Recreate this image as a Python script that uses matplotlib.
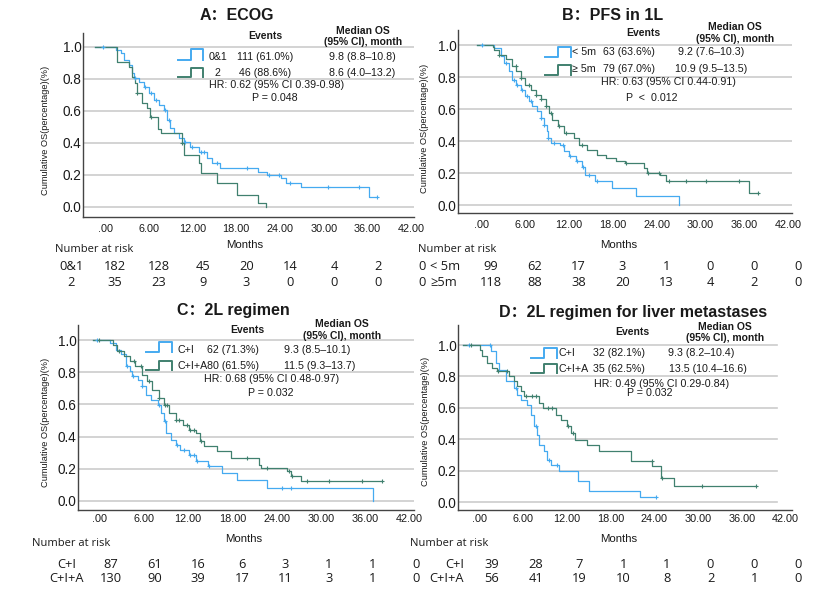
import numpy as np
import matplotlib
matplotlib.use("Agg")
import matplotlib.pyplot as plt
from matplotlib.transforms import ScaledTranslation

W, H = 830, 591
BLUE = "#45aaf0"
GREEN = "#40806f"
TXT = "#1a1a1a"
SANS = ["Liberation Sans", "DejaVu Sans"]
TITLE_FAM = ["Liberation Sans", "Noto Sans CJK SC", "DejaVu Sans"]
RISK_FAM = ["Open Sans", "DejaVu Sans"]

# ------------------------------------------------------------------ data
x_ticks = [0, 6, 12, 18, 24, 30, 36, 42]
x_tick_labels = [".00", "6.00", "12.00", "18.00", "24.00", "30.00", "36.00", "42.00"]
y_ticks = [0.0, 0.2, 0.4, 0.6, 0.8, 1.0]
y_tick_labels = ["0.0", "0.2", "0.4", "0.6", "0.8", "1.0"]
risk_times = [0, 6, 12, 18, 24, 30, 36, 42]

# Panel A: ECOG
a_title = "A：ECOG"
a_groups = ["0&1", "2"]
a_events = ["111 (61.0%)", "46 (88.6%)"]
a_median = ["9.8 (8.8–10.8)", "8.6 (4.0–13.2)"]
a_hr = "HR: 0.62 (95% CI 0.39-0.98)"
a_p = "P = 0.048"
a_blue_t = [2.84, 3.52, 3.98, 4.66, 5.12, 5.35, 6.03, 6.72, 7.41, 8.09, 8.78, 9.46, 9.92,
            10.29, 10.83, 11.52, 12.2, 13.1, 14.3, 15.4, 16.1, 17.2, 22.3, 23.6, 25.5,
            26.2, 28.2, 37.6]
a_blue_s = [0.98, 0.96, 0.92, 0.89, 0.835, 0.805, 0.783, 0.752, 0.71, 0.669, 0.637, 0.606,
            0.544, 0.492, 0.46, 0.429, 0.408, 0.377, 0.346, 0.304, 0.273, 0.242, 0.221,
            0.2, 0.179, 0.148, 0.127, 0.06]
a_blue_c = [1.14, 5.5, 6.8, 7.64, 8.32, 9.6, 10.15, 12.4, 13.3, 14.6, 15.0, 16.8, 20.9,
            23.8, 25.3, 26.8, 31.9, 36.2, 38.7]
a_green_t = [3.06, 4.66, 5.12, 5.44, 5.72, 6.5, 7.2, 7.6, 8.6, 9.0, 11.9, 12.2, 14.3, 14.5,
             16.8, 19.5, 22.3, 23.5]
a_green_s = [0.908, 0.877, 0.815, 0.773, 0.715, 0.648, 0.617, 0.565, 0.49, 0.46, 0.40,
             0.325, 0.273, 0.21, 0.148, 0.075, 0.023, 0.0]
a_green_c = [5.8, 7.7, 12.0]
a_risk = [[182, 128, 45, 20, 14, 4, 2, 0], [35, 23, 9, 3, 0, 0, 0, 0]]

# Panel B: PFS in 1L
b_title = "B：PFS in 1L"
b_groups = ["< 5m", "≥ 5m"]
b_risk_groups = ["< 5m", "≥5m"]
b_events = ["63 (63.6%)", "79 (67.0%)"]
b_median = ["9.2 (7.6–10.3)", "10.9 (9.5–13.5)"]
b_hr = "HR: 0.63 (95% CI 0.44-0.91)"
b_p = "P  <  0.012"
b_blue_t = [2.4, 3.3, 3.8, 4.5, 4.9, 5.4, 6.1, 6.7, 7.2, 7.6, 8.3, 8.8, 9.2, 9.6, 9.8,
            10.2, 11.5, 12.0, 12.7, 13.6, 14.5, 14.9, 16.3, 18.6, 21.8, 27.7]
b_blue_s = [0.98, 0.93, 0.89, 0.835, 0.78, 0.75, 0.72, 0.68, 0.65, 0.617, 0.586, 0.544,
            0.502, 0.46, 0.42, 0.387, 0.377, 0.335, 0.304, 0.273, 0.24, 0.19, 0.148,
            0.106, 0.054, 0.0]
b_blue_c = [0.8, 4.0, 5.14, 5.6, 6.3, 6.96, 7.4, 8.85, 9.3, 9.84, 10.6, 11.85, 12.8,
            13.7, 14.6, 15.4, 16.5]
b_green_t = [2.2, 2.4, 3.1, 4.0, 4.9, 5.4, 6.05, 6.7, 7.4, 8.1, 8.8, 9.5, 9.9, 10.4,
             11.1, 12.0, 13.4, 14.1, 15.2, 16.5, 17.7, 19.1, 20.4, 22.9, 23.4, 25.2,
             25.9, 37.3]
b_green_s = [0.99, 0.97, 0.94, 0.91, 0.867, 0.835, 0.794, 0.752, 0.72, 0.69, 0.66, 0.617,
             0.575, 0.534, 0.492, 0.45, 0.419, 0.377, 0.346, 0.315, 0.294, 0.273, 0.263,
             0.231, 0.2, 0.19, 0.148, 0.075]
b_green_c = [3.15, 5.36, 6.1, 7.2, 8.15, 8.85, 9.55, 10.2, 11.3, 12.2, 14.5, 20.5, 23.5,
             25.0, 26.4, 28.7, 31.4, 35.9, 38.5]
b_risk = [[99, 62, 17, 3, 1, 0, 0, 0], [118, 88, 38, 20, 13, 4, 2, 0]]

# Panel C: 2L regimen
c_title = "C：2L regimen"
c_groups = ["C+I", "C+I+A"]
c_events = ["62 (71.3%)", "80 (61.5%)"]
c_median = ["9.3 (8.5–10.1)", "11.5 (9.3–13.7)"]
c_hr = "HR: 0.68 (95% CI 0.48-0.97)"
c_p = "P = 0.032"
c_blue_t = [2.4, 3.1, 3.8, 4.5, 5.0, 5.4, 6.1, 6.7, 7.2, 7.9, 8.8, 9.2, 9.7, 10.0, 10.6,
            11.3, 11.9, 13.1, 14.0, 15.6, 17.6, 19.6, 23.7, 38.1]
c_blue_s = [0.98, 0.94, 0.91, 0.836, 0.805, 0.774, 0.753, 0.712, 0.66, 0.629, 0.598,
            0.546, 0.495, 0.422, 0.381, 0.35, 0.319, 0.288, 0.247, 0.215, 0.174, 0.133,
            0.081, 0.0]
c_blue_c = [0.63, 4.7, 5.45, 6.75, 9.05, 9.75, 11.5, 12.4, 13.2, 13.7, 14.1, 15.8, 25.7,
            26.9]
c_green_t = [2.7, 3.3, 4.2, 5.1, 5.8, 6.7, 7.4, 8.1, 9.0, 9.7, 10.3, 11.3, 12.2, 13.1,
             14.0, 14.6, 15.1, 16.9, 18.7, 22.6, 22.8, 26.4, 26.9, 28.2]
c_green_s = [0.97, 0.93, 0.899, 0.868, 0.836, 0.785, 0.743, 0.692, 0.64, 0.598, 0.546,
             0.505, 0.474, 0.443, 0.422, 0.37, 0.339, 0.308, 0.267, 0.225, 0.205, 0.184,
             0.153, 0.122]
c_green_c = [0.85, 3.6, 5.6, 6.5, 7.6, 9.05, 9.75, 10.1, 11.35, 11.7, 12.8, 13.15, 13.7,
             14.65, 21.0, 23.7, 26.6, 27.1, 29.1, 32.1, 36.6, 39.3]
c_risk = [[87, 61, 16, 6, 3, 1, 1, 0], [130, 90, 39, 17, 11, 3, 1, 0]]

# Panel D: 2L regimen for liver metastases
d_title = "D：2L regimen for liver metastases"
d_groups = ["C+I", "C+I+A"]
d_events = ["32 (82.1%)", "35 (62.5%)"]
d_median = ["9.3 (8.2–10.4)", "13.5 (10.4–16.6)"]
d_hr = "HR: 0.49 (95% CI 0.29-0.84)"
d_p = "P = 0.032"
d_blue_t = [3.79, 4.47, 4.93, 5.84, 6.99, 7.44, 7.9, 8.8, 9.27, 9.7, 10.2, 10.4, 11.1,
            11.5, 12.0, 13.1, 15.7, 17.3, 24.3]
d_blue_s = [0.96, 0.886, 0.843, 0.769, 0.727, 0.685, 0.652, 0.62, 0.557, 0.483, 0.43,
            0.366, 0.324, 0.271, 0.24, 0.197, 0.134, 0.075, 0.032]
d_blue_c = [0.82, 3.7, 7.2, 9.95, 11.8, 12.9, 26.4]
d_green_t = [2.28, 2.65, 3.33, 4.02, 4.7, 6.3, 6.99, 7.44, 7.9, 8.36, 10.4, 10.9, 12.7,
             13.4, 14.3, 14.75, 15.4, 17.0, 18.6, 23.0, 25.95, 27.1, 28.9]
d_green_s = [0.97, 0.928, 0.886, 0.854, 0.833, 0.801, 0.769, 0.737, 0.705, 0.674, 0.631,
             0.6, 0.557, 0.525, 0.483, 0.441, 0.398, 0.362, 0.324, 0.26, 0.229, 0.155,
             0.102]
d_green_c = [1.05, 4.75, 6.07, 8.6, 9.5, 10.0, 11.6, 12.2, 14.35, 15.0, 25.9, 27.2, 32.8,
             40.1]
d_risk = [[39, 28, 7, 1, 1, 0, 0, 0], [56, 41, 19, 10, 8, 2, 1, 0]]

# ------------------------------------------------------------------ figure
fig = plt.figure(figsize=(W / 100, H / 100), dpi=100)
fig.patch.set_facecolor("white")


def P(x, y):
    """pixel (from top-left) -> figure fraction"""
    return x / W, 1 - y / H


def ftext(x, y, s, size=7.7, ha="center", va="center", weight="normal", family=SANS, **kw):
    fx, fy = P(x, y)
    fig.text(fx, fy, s, fontsize=size, ha=ha, va=va, fontweight=weight,
             family=family, color=TXT, **kw)


def make_axes(box, t0_px, px_per_month, s1_px, s0_px, label_dx, grid_frac=1.0, xlab_pad=5):
    left, top, right, bottom = box
    fx0, fy0 = P(left, bottom)
    ax = fig.add_axes([fx0, fy0, (right - left) / W, (bottom - top) / H])
    ax.set_xlim((left - t0_px) / px_per_month, (right - t0_px) / px_per_month)
    py = (s0_px - s1_px)
    ax.set_ylim(-(bottom - s0_px) / py, 1 + (s1_px - top) / py)
    for sp in ("top", "right"):
        ax.spines[sp].set_visible(False)
    for sp in ("left", "bottom"):
        ax.spines[sp].set_color("#444444")
        ax.spines[sp].set_linewidth(1.0)
    for yv in y_ticks:
        ax.axhline(yv, xmin=0, xmax=grid_frac, color="#cccccc", lw=1.2, zorder=0)
    ax.set_yticks(y_ticks)
    ax.set_yticklabels(y_tick_labels, family=SANS, fontsize=9.8, color=TXT)
    ax.set_xticks(x_ticks)
    ax.set_xticklabels(x_tick_labels, family=SANS, fontsize=7.8, color=TXT)
    ax.tick_params(axis="y", length=0, pad=1.2)
    ax.tick_params(axis="x", length=0, pad=xlab_pad)
    off = ScaledTranslation(label_dx / 100, 0, fig.dpi_scale_trans)
    for tk in ax.xaxis.get_major_ticks():
        tk.label1.set_transform(tk.label1.get_transform() + off)
    ax.set_facecolor("none")
    return ax


def km(ax, times, surv, cens, color):
    times = np.asarray(times, float)
    surv = np.asarray(surv, float)
    end = times[-1] if surv[-1] == 0 else max(times[-1], max(cens))
    x = np.r_[0.0, times, end]
    y = np.r_[1.0, surv, surv[-1]]
    ax.step(x, y, where="post", color=color, lw=0.9, zorder=3)
    cens = np.asarray(cens, float)
    levels = np.r_[1.0, surv]
    cy = levels[np.searchsorted(times, cens, side="right")]
    ax.plot(cens, cy, ls="none", marker="+", ms=3.3, mew=0.8, color=color, zorder=4)


def icon(x0, x1, ytop, ybot, color):
    xm = (x0 + x1) / 2
    xs = [x0, xm, xm, x1, x1]
    ys = [ybot, ybot, ytop, ytop, ybot]
    fxs = [P(a, 0)[0] for a in xs]
    fys = [P(0, b)[1] for b in ys]
    fig.add_artist(plt.Line2D(fxs, fys, color=color, lw=1.4, transform=fig.transFigure))


def legend_block(hdr, rows, hr, p):
    (ex, ey), (mx, my1, my2) = hdr
    ftext(ex, ey, "Events", weight="bold", size=7.5)
    ftext(mx, my1, "Median OS", weight="bold", size=7.5)
    ftext(mx, my2, "(95% CI), month", weight="bold", size=7.5)
    for r in rows:
        icon(*r["icon"], r["color"])
        ftext(r["gx"], r["y"], r["g"], ha=r.get("gha", "center"))
        ftext(r["ex"], r["y"], r["e"])
        ftext(r["mx"], r["y"], r["m"])
    ftext(hr[0], hr[1], hr[2])
    ftext(p[0], p[1], p[2])


def risk_block(nx, ny, mx, my, rows_y, labels, lab_x, lab_ha, values, col0, step):
    ftext(nx, ny, "Number at risk", size=8, ha="left", family=RISK_FAM)
    ftext(mx, my, "Months", size=8.2, family=SANS)
    for ry, lab, vals in zip(rows_y, labels, values):
        ftext(lab_x, ry, lab, size=9.3, ha=lab_ha, family=RISK_FAM)
        for i, v in enumerate(vals):
            ftext(col0 + i * step, ry, str(v), size=9.3, family=RISK_FAM)


# ---------------- Panel A
axA = make_axes((83, 33, 414, 217), 95, 7.29, 47, 207, 10, xlab_pad=5.0)
km(axA, a_blue_t, a_blue_s, a_blue_c, BLUE)
km(axA, a_green_t, a_green_s, a_green_c, GREEN)
ftext(237, 15, a_title, size=11.5, weight="bold", family=TITLE_FAM)
ftext(46, 130, "Cumulative OS(percentage)(%)", size=6.7, rotation=90)
legend_block(((265, 36), (363, 31, 42)),
             [dict(icon=(178, 203, 49, 60), color=BLUE, g=a_groups[0], gx=218, y=57,
                   e=a_events[0], ex=265, m=a_median[0], mx=362),
              dict(icon=(178, 203, 68, 77), color=GREEN, g=a_groups[1], gx=217, y=73,
                   e=a_events[1], ex=265, m=a_median[1], mx=362)],
             (277, 85, a_hr), (275, 98, a_p))
risk_block(55, 249, 245, 245, (267, 282), a_groups, 71, "center", a_risk, 115, 43.8)

# ---------------- Panel B
axB = make_axes((458, 30, 792, 213), 476.5, 7.3, 45, 205, 5, xlab_pad=5.0)
km(axB, b_blue_t, b_blue_s, b_blue_c, BLUE)
km(axB, b_green_t, b_green_s, b_green_c, GREEN)
ftext(613, 15, b_title, size=11.5, weight="bold", family=TITLE_FAM)
ftext(424, 128, "Cumulative OS(percentage)(%)", size=6.7, rotation=90)
legend_block(((643, 33), (735, 27, 39)),
             [dict(icon=(545, 571, 47, 57), color=BLUE, g=b_groups[0], gx=572, gha="left",
                   y=52, e=b_events[0], ex=629, m=b_median[0], mx=711),
              dict(icon=(545, 571, 65, 75), color=GREEN, g=b_groups[1], gx=572, gha="left",
                   y=69, e=b_events[1], ex=629, m=b_median[1], mx=711)],
             (668, 82, b_hr), (652, 98, b_p))
risk_block(418, 249, 619, 245, (267, 282), b_risk_groups, 430, "left", b_risk, 491, 43.8)

# ---------------- Panel C
axC = make_axes((78, 325, 414, 510), 92.7, 7.37, 340, 501, 7, xlab_pad=3.2)
km(axC, c_blue_t, c_blue_s, c_blue_c, BLUE)
km(axC, c_green_t, c_green_s, c_green_c, GREEN)
ftext(233, 311, c_title, size=11.5, weight="bold", family=TITLE_FAM)
ftext(46, 422, "Cumulative OS(percentage)(%)", size=6.7, rotation=90)
legend_block(((247, 330), (342, 324, 336)),
             [dict(icon=(146, 172, 342, 352), color=BLUE, g=c_groups[0], gx=177, gha="left",
                   y=350, e=c_events[0], ex=233, m=c_median[0], mx=317),
              dict(icon=(146, 172, 361, 370), color=GREEN, g=c_groups[1], gx=177, gha="left",
                   y=366, e=c_events[1], ex=233, m=c_median[1], mx=320)],
             (272, 379, c_hr), (271, 393, c_p))
risk_block(32, 544, 244, 539, (564, 578), c_groups, 67, "center", c_risk, 111, 43.6)

# ---------------- Panel D
axD = make_axes((458, 325, 792, 510), 463, 7.3, 345, 502.3, 16,
                grid_frac=(777 - 458) / (792 - 458), xlab_pad=3.2)
km(axD, d_blue_t, d_blue_s, d_blue_c, BLUE)
km(axD, d_green_t, d_green_s, d_green_c, GREEN)
ftext(633, 312, d_title, size=11.5, weight="bold", family=TITLE_FAM)
ftext(425, 421, "Cumulative OS(percentage)(%)", size=6.7, rotation=90)
legend_block(((632, 332), (725, 327, 338)),
             [dict(icon=(531, 557, 348, 358), color=BLUE, g=d_groups[0], gx=558, gha="left",
                   y=353, e=d_events[0], ex=619, m=d_median[0], mx=701),
              dict(icon=(531, 557, 364, 373), color=GREEN, g=d_groups[1], gx=558, gha="left",
                   y=369, e=d_events[1], ex=619, m=d_median[1], mx=708)],
             (662, 384, d_hr), (650, 393, d_p))
risk_block(410, 544, 619, 539, (564, 578), d_groups, 464, "right", d_risk, 492, 43.7)

fig.savefig("out.png", dpi=100, facecolor="white")
